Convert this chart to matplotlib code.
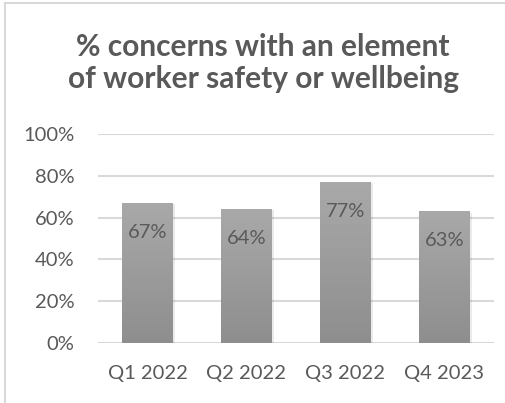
import numpy as np
import matplotlib
matplotlib.use('Agg')
import matplotlib.pyplot as plt
from matplotlib.lines import Line2D
from matplotlib.colors import LinearSegmentedColormap

quarters = ['Q1 2022', 'Q2 2022', 'Q3 2022', 'Q4 2023']
shares = [67, 64, 77, 63]
y_ticks = [0, 20, 40, 60, 80, 100]

text_col = '#595959'
grid_col = '#d9d9d9'

plt.rcParams['font.family'] = ['Lato', 'DejaVu Sans']

fig = plt.figure(figsize=(5.06, 4.03), dpi=100)
ax = fig.add_axes([98 / 506, 60 / 403, 396 / 506, 209 / 403])

x = np.arange(len(quarters))
bars = ax.bar(x, shares, width=0.51, color='none', zorder=3)

# vertical grey gradient inside each bar
grad = np.linspace(0, 1, 256).reshape(-1, 1)
cmap = LinearSegmentedColormap.from_list('g', ['#8e8e8e', '#a9a9a9'])
for b in bars:
    x0, y0 = b.get_x(), b.get_y()
    w, h = b.get_width(), b.get_height()
    # soft shadow
    ax.bar(x0 + w / 2 + 0.02, h, width=w, bottom=-0.6, color='#000000',
           alpha=0.08, zorder=2)
    im = ax.imshow(grad, cmap=cmap, origin='lower', aspect='auto',
                   extent=(x0, x0 + w, y0, y0 + h), zorder=3)
    im.set_clip_path(b)

for xi, v in zip(x, shares):
    ax.annotate(f'{v}%', (xi, v), xytext=(0, -21), textcoords='offset points',
                ha='center', va='center', fontsize=14.5, color=text_col, zorder=4)

ax.set_xlim(-0.5, len(quarters) - 0.5)
ax.set_ylim(0, 100)
ax.set_xticks(x)
ax.set_xticklabels(quarters)
ax.set_yticks(y_ticks)
ax.set_yticklabels([f'{t}%' for t in y_ticks])
ax.tick_params(length=0, labelsize=14.5, colors=text_col)
ax.tick_params(axis='x', pad=16)
ax.tick_params(axis='y', pad=17)
ax.grid(axis='y', color=grid_col, linewidth=1.5, zorder=0)
ax.set_axisbelow(True)
for s in ax.spines.values():
    s.set_visible(False)

fig.text(0.52, 1 - 63 / 403, '% concerns with an element\nof worker safety or wellbeing',
         ha='center', va='center', fontsize=21.5, fontweight='bold', color=text_col,
         linespacing=1.15)

# chart frame (cropped)
fig.add_artist(Line2D([5 / 506, 1], [1 - 3 / 403, 1 - 3 / 403], color=grid_col,
                      linewidth=1.5, transform=fig.transFigure))
fig.add_artist(Line2D([5 / 506, 5 / 506], [0, 1 - 3 / 403], color=grid_col,
                      linewidth=1.5, transform=fig.transFigure))

fig.savefig('out.png', dpi=100)
